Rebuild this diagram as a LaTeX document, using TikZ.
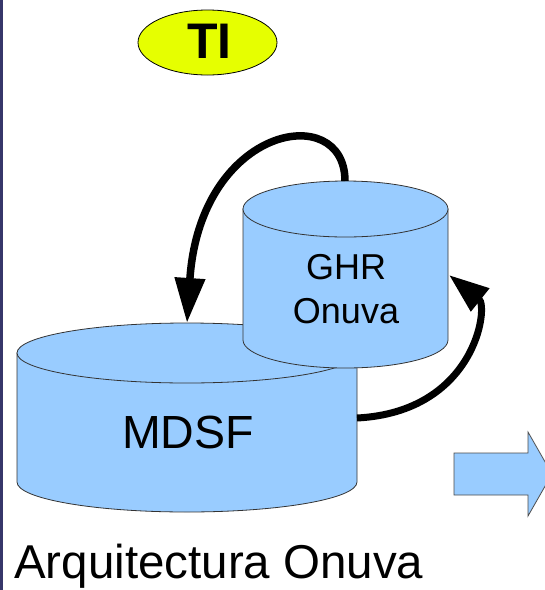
\documentclass[tikz,border=0pt]{standalone}
\usepackage{fontspec}
\setmainfont{Liberation Sans}
\usetikzlibrary{arrows.meta}
\definecolor{cylblue}{HTML}{99CCFF}
\definecolor{tiyellow}{HTML}{E6FF00}
\definecolor{bordernavy}{HTML}{36366A}
\begin{document}
\begin{tikzpicture}[x=1pt,y=1pt,yscale=-1,
  cyl/.style={fill=cylblue, draw=black!80, line width=0.8pt},
  blockarrow/.style={fill=cylblue, draw=black!70, line width=0.8pt},
  curvearrow/.style={line width=7.5pt, -{Triangle[length=45pt,width=29pt]}},
  curvearrowb/.style={line width=7pt, -{Triangle[length=40pt,width=28pt]}},
  lbl/.style={inner sep=0pt, anchor=base, text=black}]
\useasboundingbox (0,0) rectangle (545,590);
\clip (0,0) rectangle (545,590);
\fill[white] (0,0) rectangle (545,590);
\fill[bordernavy] (0,0) rectangle (2.5,590);

% TI ellipse
\path[draw=black, fill=tiyellow, line width=0.8pt] (207.5,42.5) ellipse [x radius=69.5pt, y radius=32.5pt];
\node[lbl, font=\bfseries\fontsize{50}{60}\selectfont] (ti) at (209.5,58) {TI};

% MDSF cylinder
\path[cyl] (17,353) -- (17,482) arc[start angle=180, end angle=0, x radius=170pt, y radius=30pt] -- (357,353) -- cycle;
\path[cyl] (187,353) ellipse [x radius=170pt, y radius=30pt];
\node[lbl, font=\fontsize{46.5}{56}\selectfont] (mdsf) at (188,448) {MDSF};

% GHR cylinder
\path[cyl] (243,209) -- (243,340) arc[start angle=180, end angle=0, x radius=102.5pt, y radius=28pt] -- (448,209) -- cycle;
\path[cyl] (345.5,209) ellipse [x radius=102.5pt, y radius=28pt];
\node[lbl, font=\fontsize{36}{43}\selectfont] (ghr) at (346,279) {GHR};
\node[lbl, font=\fontsize{36}{43}\selectfont] (onuva) at (346,323) {Onuva};

% connector end points
\coordinate (ghrtop) at (345,181);
\coordinate (mdsftop) at (187,323);
\coordinate (mdsfright) at (357,418);
\coordinate (ghrright) at (449,275);

% curved arrows
\draw[curvearrow] (ghrtop) .. controls (345,100) and (200,125) .. (mdsftop);
\draw[curvearrowb] (mdsfright) .. controls (475,412) and (489,307) .. (ghrright);

% block arrow
\path[blockarrow] (454,453) -- (528,453) -- (528,432) -- (552,474) -- (528,516) -- (528,495) -- (454,495) -- cycle;

% caption
\node[inner sep=0pt, anchor=base west, font=\fontsize{47.5}{57}\selectfont] (caption) at (14,578) {Arquitectura Onuva};
\end{tikzpicture}
\end{document}
